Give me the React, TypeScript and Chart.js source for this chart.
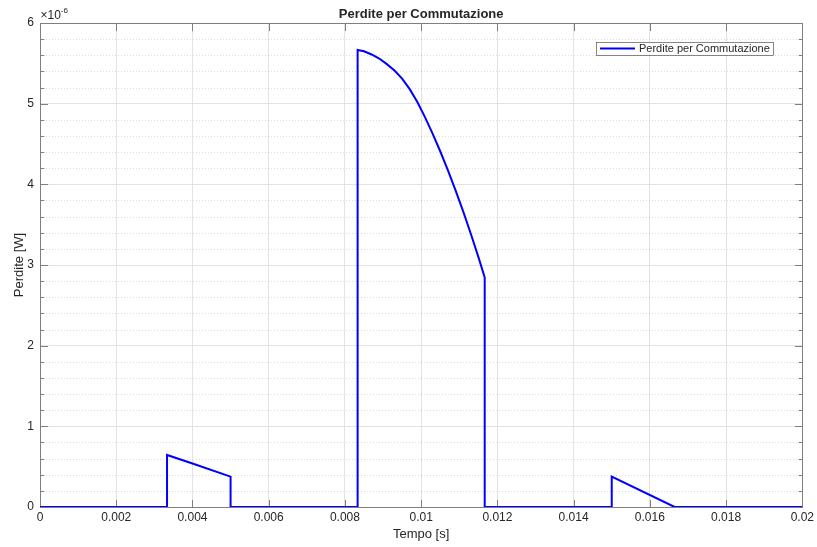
import React, { useEffect, useRef } from "react";
import { Chart, registerables } from "chart.js";

Chart.register(...registerables);

// Data (time in s, losses in W)
const timeS = [
  0, 0.003333, 0.003333, 0.004, 0.005, 0.005,
  0.008333, 0.008333, 0.0085, 0.0087, 0.0089, 0.0091, 0.0093, 0.0095, 0.0097, 0.0099,
  0.0101, 0.0103, 0.0105, 0.0107, 0.0109, 0.0111, 0.0113, 0.0115, 0.011667, 0.011667,
  0.015, 0.015, 0.01665, 0.02,
];
const lossW = [
  0, 0, 0.645e-6, 0.54e-6, 0.376e-6, 0,
  0, 5.665e-6, 5.65e-6, 5.61e-6, 5.56e-6, 5.49e-6, 5.41e-6, 5.31e-6, 5.18e-6, 5.02e-6,
  4.833e-6, 4.629e-6, 4.41e-6, 4.177e-6, 3.929e-6, 3.667e-6, 3.391e-6, 3.1e-6, 2.846e-6, 0,
  0, 0.376e-6, 0, 0,
];
const xTickValues = [0, 0.002, 0.004, 0.006, 0.008, 0.01, 0.012, 0.014, 0.016, 0.018, 0.02];
const xTickLabels = ["0", "0.002", "0.004", "0.006", "0.008", "0.01", "0.012", "0.014", "0.016", "0.018", "0.02"];
const yMajorLabels = ["0", "1", "2", "3", "4", "5", "6"];
const seriesName = "Perdite per Commutazione";
const titleText = "Perdite per Commutazione";
const xTitle = "Tempo [s]";
const yTitle = "Perdite [W]";

const FONT = "'Liberation Sans', Arial, Helvetica, sans-serif";
const TEXT = "#262626";
const AXIS = "#7f7f7f";

function isMajorY(v: number) {
  const k = Math.round(v * 1e7);
  return k % 10 === 0;
}

const matlabAxesPlugin = {
  id: "matlabAxes",
  beforeDatasetsDraw(chart: any) {
    const { ctx, chartArea: a, scales } = chart;
    const ys = scales.y;
    const xs = scales.x;
    ctx.save();
    // minor dotted grid
    ctx.strokeStyle = "rgba(38,38,38,0.16)";
    ctx.lineWidth = 1;
    ctx.setLineDash([1, 2]);
    ys.ticks.forEach((t: any) => {
      if (isMajorY(t.value)) return;
      const py = Math.round(ys.getPixelForValue(t.value)) + 0.5;
      ctx.beginPath();
      ctx.moveTo(a.left, py);
      ctx.lineTo(a.right, py);
      ctx.stroke();
    });
    ctx.setLineDash([]);
    // box
    ctx.strokeStyle = AXIS;
    ctx.lineWidth = 1;
    const l = Math.round(a.left) + 0.5, r = Math.round(a.right) + 0.5;
    const tp = Math.round(a.top) + 0.5, b = Math.round(a.bottom) + 0.5;
    ctx.strokeRect(l, tp, r - l, b - tp);
    // y ticks inward on both sides
    ys.ticks.forEach((t: any) => {
      const py = Math.round(ys.getPixelForValue(t.value)) + 0.5;
      const len = isMajorY(t.value) ? 7.6 : 3.8;
      ctx.beginPath();
      ctx.moveTo(l, py); ctx.lineTo(l + len, py);
      ctx.moveTo(r, py); ctx.lineTo(r - len, py);
      ctx.stroke();
    });
    // x ticks inward top and bottom
    xTickValues.forEach((v) => {
      const px = Math.round(xs.getPixelForValue(v)) + 0.5;
      ctx.beginPath();
      ctx.moveTo(px, b); ctx.lineTo(px, b - 7.6);
      ctx.moveTo(px, tp); ctx.lineTo(px, tp + 7.6);
      ctx.stroke();
    });
    ctx.restore();
  },
  afterDraw(chart: any) {
    const { ctx, chartArea: a } = chart;
    ctx.save();
    // exponent label
    ctx.fillStyle = TEXT;
    ctx.textBaseline = "alphabetic";
    ctx.textAlign = "left";
    ctx.font = `12px ${FONT}`;
    const base = "\u00d710";
    ctx.fillText(base, a.left + 0.5, 18.5);
    const w = ctx.measureText(base).width;
    ctx.font = `8px ${FONT}`;
    ctx.fillText("-6", a.left + 0.5 + w, 13);
    // legend box
    const bx = 596, by = 42, bw = 177, bh = 13;
    ctx.fillStyle = "#ffffff";
    ctx.fillRect(bx, by, bw, bh);
    ctx.strokeStyle = "#3a3a3a";
    ctx.lineWidth = 0.6;
    ctx.strokeRect(bx + 0.5, by + 0.5, bw, bh);
    ctx.strokeStyle = "#0000ff";
    ctx.lineWidth = 2;
    ctx.beginPath();
    ctx.moveTo(bx + 4, by + 6.5);
    ctx.lineTo(bx + 39, by + 6.5);
    ctx.stroke();
    ctx.fillStyle = TEXT;
    ctx.font = `11px ${FONT}`;
    ctx.textBaseline = "middle";
    ctx.fillText(seriesName, bx + 43, by + 7);
    ctx.restore();
  },
};

export default function App() {
  const ref = useRef<HTMLCanvasElement | null>(null);
  useEffect(() => {
    document.body.style.margin = "0";
    const canvas = ref.current!;
    const chart = new Chart(canvas, {
      type: "line",
      data: {
        datasets: [
          {
            label: seriesName,
            data: timeS.map((t, i) => ({ x: t, y: lossW[i] })),
            borderColor: "#0000ff",
            backgroundColor: "#0000ff",
            borderWidth: 2,
            pointRadius: 0,
            tension: 0,
            fill: false,
          },
        ],
      },
      options: {
        animation: false,
        responsive: false,
        devicePixelRatio: 1,
        parsing: false as any,
        layout: { padding: { left: 0, right: 14, top: 0, bottom: 0 } },
        plugins: {
          legend: { display: false },
          tooltip: { enabled: false },
          title: {
            display: true,
            text: titleText,
            fullSize: false,
            color: TEXT,
            font: { family: FONT, size: 13, weight: "bold", lineHeight: 1.2 },
            padding: { top: 7, bottom: 0.4 },
          },
        },
        scales: {
          x: {
            type: "linear",
            min: 0,
            max: 0.02,
            afterBuildTicks: (s: any) => {
              s.ticks = xTickValues.map((v) => ({ value: v }));
            },
            afterFit: (s: any) => {
              s.height = 40;
            },
            ticks: {
              autoSkip: false,
              maxRotation: 0,
              padding: 3,
              color: TEXT,
              font: { family: FONT, size: 12 },
              callback: (v: any) => {
                const i = xTickValues.findIndex((t) => Math.abs(t - Number(v)) < 1e-9);
                return i >= 0 ? xTickLabels[i] : "";
              },
            },
            grid: { color: "#e3e3e3", drawTicks: false, lineWidth: 1 },
            border: { display: false },
            title: {
              display: true,
              text: xTitle,
              color: TEXT,
              font: { family: FONT, size: 13, lineHeight: 1.2 },
              padding: { top: 0, bottom: 4.6 },
            },
          },
          y: {
            type: "linear",
            min: 0,
            max: 6e-6,
            afterBuildTicks: (s: any) => {
              const arr: any[] = [];
              for (let k = 0; k <= 30; k++) arr.push({ value: (k * 2) / 1e7 });
              s.ticks = arr;
            },
            afterFit: (s: any) => {
              s.width = 40;
            },
            ticks: {
              autoSkip: false,
              padding: 6,
              color: TEXT,
              font: { family: FONT, size: 12 },
              callback: (v: any) => {
                const k = Math.round(Number(v) * 1e7);
                return k % 10 === 0 ? yMajorLabels[k / 10] : "";
              },
            },
            grid: {
              drawTicks: false,
              lineWidth: 1,
              color: (c: any) => (c.tick && isMajorY(c.tick.value) ? "#e3e3e3" : "rgba(0,0,0,0)"),
            },
            border: { display: false },
            title: {
              display: true,
              text: yTitle,
              color: TEXT,
              font: { family: FONT, size: 13, lineHeight: 1.2 },
              padding: { top: 12, bottom: 0 },
            },
          },
        },
      },
      plugins: [matlabAxesPlugin],
    });
    return () => chart.destroy();
  }, []);
  return (
    <div style={{ width: 817, height: 547, background: "#fff" }}>
      <canvas ref={ref} width={817} height={547} />
    </div>
  );
}
